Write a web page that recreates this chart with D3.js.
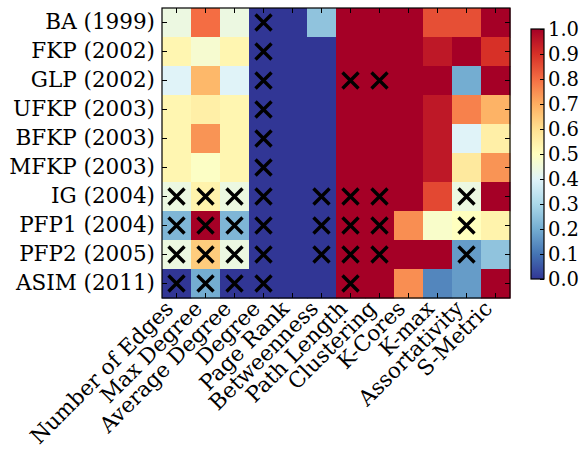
<!DOCTYPE html>
<html>
<head>
<meta charset="utf-8">
<script src="https://cdn.jsdelivr.net/npm/d3@7"></script>
<style>
  html, body { margin: 0; padding: 0; background: #fff; }
  svg { display: block; }
  text { font-family: "DejaVu Serif", serif; fill: #000; }
</style>
</head>
<body>
<svg id="chart" width="579" height="450"></svg>
<script>
// Generators (rows) and graph metrics (columns)
const models = ["BA (1999)", "FKP (2002)", "GLP (2002)", "UFKP (2003)", "BFKP (2003)",
                "MFKP (2003)", "IG (2004)", "PFP1 (2004)", "PFP2 (2005)", "ASIM (2011)"];
const metrics = ["Number of Edges", "Max Degree", "Average Degree", "Degree", "Page Rank",
                 "Betweenness", "Path Length", "Clustering", "K-Cores", "K-max",
                 "Assortativity", "S-Metric"];

// Score of each model on each metric (0 = worst, 1 = best)
const scores = [
  [0.44, 0.80, 0.44, 0.00, 0.00, 0.25, 1.00, 1.00, 1.00, 0.85, 0.85, 1.00],
  [0.53, 0.47, 0.53, 0.00, 0.00, 0.00, 1.00, 1.00, 1.00, 0.95, 1.00, 0.90],
  [0.40, 0.68, 0.40, 0.00, 0.00, 0.00, 1.00, 1.00, 1.00, 1.00, 0.20, 1.00],
  [0.53, 0.55, 0.53, 0.00, 0.00, 0.00, 1.00, 1.00, 1.00, 0.95, 0.77, 0.69],
  [0.53, 0.74, 0.53, 0.00, 0.00, 0.00, 1.00, 1.00, 1.00, 0.95, 0.40, 0.55],
  [0.53, 0.49, 0.53, 0.00, 0.00, 0.00, 1.00, 1.00, 1.00, 0.95, 0.57, 0.74],
  [0.44, 0.54, 0.44, 0.00, 0.00, 0.00, 1.00, 1.00, 1.00, 0.86, 0.44, 1.00],
  [0.22, 1.00, 0.22, 0.00, 0.00, 0.00, 1.00, 1.00, 0.75, 0.48, 0.50, 0.54],
  [0.44, 0.64, 0.44, 0.00, 0.00, 0.00, 1.00, 1.00, 1.00, 1.00, 0.17, 0.25],
  [0.00, 0.20, 0.00, 0.00, 0.00, 0.00, 1.00, 1.00, 0.75, 0.13, 0.17, 1.00]
];

// 1 where the metric could not be evaluated for the model (drawn as a cross)
const failed = [
  [0, 0, 0, 1, 0, 0, 0, 0, 0, 0, 0, 0],
  [0, 0, 0, 1, 0, 0, 0, 0, 0, 0, 0, 0],
  [0, 0, 0, 1, 0, 0, 1, 1, 0, 0, 0, 0],
  [0, 0, 0, 1, 0, 0, 0, 0, 0, 0, 0, 0],
  [0, 0, 0, 1, 0, 0, 0, 0, 0, 0, 0, 0],
  [0, 0, 0, 1, 0, 0, 0, 0, 0, 0, 0, 0],
  [1, 1, 1, 1, 0, 1, 1, 1, 0, 0, 1, 0],
  [1, 1, 1, 1, 0, 1, 1, 1, 0, 0, 1, 0],
  [1, 1, 1, 1, 0, 1, 1, 1, 0, 0, 1, 0],
  [1, 1, 1, 1, 0, 0, 1, 0, 0, 0, 0, 0]
];

const colorbarTicks = [0.0, 0.1, 0.2, 0.3, 0.4, 0.5, 0.6, 0.7, 0.8, 0.9, 1.0];

// Reversed RdYlBu, piecewise-linear through its eleven anchor colours
const rdylbuR = ["#313695", "#4575b4", "#74add1", "#abd9e9", "#e0f3f8", "#ffffbf",
                 "#fee090", "#fdae61", "#f46d43", "#d73027", "#a50026"];
const color = d3.scaleLinear()
  .domain(d3.range(rdylbuR.length).map(i => i / (rdylbuR.length - 1)))
  .range(rdylbuR)
  .interpolate(d3.interpolateRgb)
  .clamp(true);

const svg = d3.select("#chart");
const plot = { left: 162, top: 8, width: 348, height: 290 };
const fontSize = 21.5;
const cbFontSize = 19.5;

const x = d3.scaleBand().domain(metrics).range([plot.left, plot.left + plot.width]);
const y = d3.scaleBand().domain(models).range([plot.top, plot.top + plot.height]);

// Heatmap cells
const cells = [];
models.forEach((m, i) => metrics.forEach((k, j) => {
  cells.push({ model: m, metric: k, value: scores[i][j], fail: failed[i][j] });
}));

svg.append("g").selectAll("rect").data(cells).join("rect")
  .attr("x", d => x(d.metric))
  .attr("y", d => y(d.model))
  .attr("width", x.bandwidth() + 0.5)
  .attr("height", y.bandwidth() + 0.5)
  .attr("fill", d => color(d.value));

// Crosses for failed evaluations
const half = 8;
const crossG = svg.append("g").attr("stroke", "#000").attr("stroke-width", 3.4);
cells.filter(d => d.fail).forEach(d => {
  const cx = x(d.metric) + x.bandwidth() / 2;
  const cy = y(d.model) + y.bandwidth() / 2;
  crossG.append("path")
    .attr("d", `M${cx - half},${cy - half}L${cx + half},${cy + half}M${cx - half},${cy + half}L${cx + half},${cy - half}`);
});

// Axes with inward ticks on all four sides
const tickLen = 5;
const axisLeft = d3.axisLeft(y).tickSize(-tickLen).tickPadding(7);
const axisRight = d3.axisRight(y).tickSize(-tickLen).tickFormat("");
const axisTop = d3.axisTop(x).tickSize(-tickLen).tickFormat("");
const axisBottom = d3.axisBottom(x).tickSize(-tickLen).tickFormat("");

function styleAxis(g) {
  g.select(".domain").remove();
  g.selectAll(".tick line").attr("stroke", "#000").attr("stroke-width", 1);
}

svg.append("g").attr("transform", `translate(${plot.left},0)`).call(axisLeft).call(styleAxis)
  .selectAll("text").attr("font-size", fontSize).attr("font-family", "DejaVu Serif, serif").attr("fill", "#000");
svg.append("g").attr("transform", `translate(${plot.left + plot.width},0)`).call(axisRight).call(styleAxis);
svg.append("g").attr("transform", `translate(0,${plot.top})`).call(axisTop).call(styleAxis);
svg.append("g").attr("transform", `translate(0,${plot.top + plot.height})`).call(axisBottom).call(styleAxis);

// Rotated metric labels under the heatmap
svg.append("g").selectAll("text").data(metrics).join("text")
  .attr("transform", d => `translate(${x(d) + x.bandwidth() / 2 - 2},${plot.top + plot.height + 12}) rotate(-45)`)
  .attr("text-anchor", "end")
  .attr("font-size", fontSize)
  .text(d => d);

// Frame
svg.append("rect")
  .attr("x", plot.left).attr("y", plot.top)
  .attr("width", plot.width).attr("height", plot.height)
  .attr("fill", "none").attr("stroke", "#000").attr("stroke-width", 1.2);

// Colour bar
const cb = { left: 531, top: 29, width: 13, height: 250 };
const cbScale = d3.scaleLinear().domain([0, 1]).range([cb.top + cb.height, cb.top]);
const grad = svg.append("defs").append("linearGradient")
  .attr("id", "cbGrad").attr("x1", 0).attr("y1", 1).attr("x2", 0).attr("y2", 0);
grad.selectAll("stop").data(d3.range(0, 1.0001, 0.05)).join("stop")
  .attr("offset", d => d)
  .attr("stop-color", d => color(d));

svg.append("rect")
  .attr("x", cb.left).attr("y", cb.top)
  .attr("width", cb.width).attr("height", cb.height)
  .attr("fill", "url(#cbGrad)");

const cbAxis = d3.axisRight(cbScale).tickValues(colorbarTicks)
  .tickFormat(d3.format(".1f")).tickSize(-4).tickPadding(4);
svg.append("g").attr("transform", `translate(${cb.left + cb.width},0)`).call(cbAxis)
  .call(g => g.select(".domain").remove())
  .call(g => g.selectAll(".tick line").attr("stroke", "#000"))
  .selectAll("text").attr("font-size", cbFontSize).attr("font-family", "DejaVu Serif, serif").attr("fill", "#000");

svg.append("rect")
  .attr("x", cb.left).attr("y", cb.top)
  .attr("width", cb.width).attr("height", cb.height)
  .attr("fill", "none").attr("stroke", "#000").attr("stroke-width", 1.2);
</script>
</body>
</html>
